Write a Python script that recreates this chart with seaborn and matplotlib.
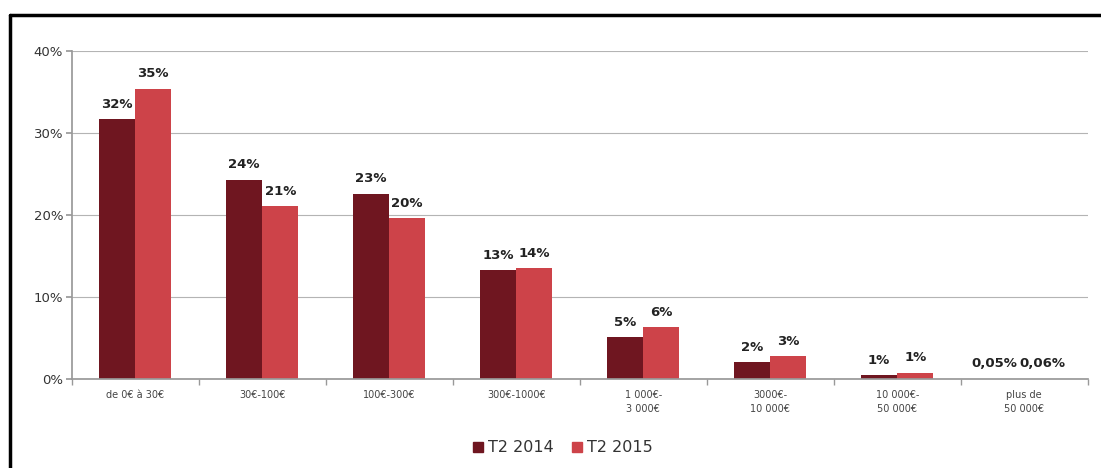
import matplotlib
matplotlib.use("Agg")
import matplotlib.pyplot as plt
import seaborn as sns
import pandas as pd
import numpy as np
from matplotlib.lines import Line2D

# data
categories = ["de 0€ à 30€", "30€-100€", "100€-300€", "300€-1000€",
              "1 000€-\n3 000€", "3000€-\n10 000€", "10 000€-\n50 000€", "plus de\n50 000€"]
series = ["T2 2014", "T2 2015"]
values_2014 = [31.7, 24.3, 22.6, 13.3, 5.1, 2.1, 0.5, 0.05]
values_2015 = [35.4, 21.1, 19.6, 13.5, 6.3, 2.8, 0.8, 0.06]
labels_2014 = ["32%", "24%", "23%", "13%", "5%", "2%", "1%", "0,05%"]
labels_2015 = ["35%", "21%", "20%", "14%", "6%", "3%", "1%", "0,06%"]
colors = ["#6f1620", "#cd4349"]

df = pd.DataFrame({
    "cat": categories * 2,
    "serie": [series[0]] * len(categories) + [series[1]] * len(categories),
    "val": values_2014 + values_2015,
})

sns.set_theme(style="white")
plt.rcParams["font.family"] = ["DejaVu Sans"]

fig = plt.figure(figsize=(11.01, 4.68), dpi=100)
ax = fig.add_axes([0.065, 0.19, 0.923, 0.701])

sns.barplot(data=df, x="cat", y="val", hue="serie", order=categories,
            hue_order=series, palette=colors, width=0.57, saturation=1,
            linewidth=0, ax=ax, legend=False)

ax.set_ylim(0, 40)
ax.set_xlim(-0.5, len(categories) - 0.5)
ax.set_yticks([0, 10, 20, 30, 40])
ax.set_yticklabels(["0%", "10%", "20%", "30%", "40%"], fontsize=9.5, color="#333333")
ax.set_xticks(range(len(categories)))
ax.set_xticklabels(categories, fontsize=7, color="#444444", linespacing=1.5)
ax.tick_params(axis="x", length=0, pad=8)
ax.tick_params(axis="y", length=4, color="#999999", pad=2, left=True)
ax.set_xticks(np.arange(-0.5, len(categories), 1), minor=True)
ax.tick_params(axis="x", which="minor", length=4, color="#999999", bottom=True)
ax.set_xlabel("")
ax.set_ylabel("")
ax.grid(axis="y", color="#b4b4b4", linewidth=0.8)
ax.set_axisbelow(True)
for s in ["top", "right"]:
    ax.spines[s].set_visible(False)
ax.spines["left"].set_color("#999999")
ax.spines["bottom"].set_color("#999999")

# value labels
texts = []
for cont, labs in zip(ax.containers, [labels_2014, labels_2015]):
    texts.append(ax.bar_label(cont, labels=labs, padding=6, fontsize=9.5,
                              fontweight="bold", color="#222222"))
# the two tiny values sit side by side: push the first one to the left
last = texts[0][-1]
last.set_horizontalalignment("right")
last.xyann = (8, 6)

# legend
handles = [Line2D([0], [0], marker="s", linestyle="", markersize=7,
                  markerfacecolor=c, markeredgecolor=c) for c in colors]
fig.legend(handles, series, loc="center", bbox_to_anchor=(0.51, 0.043),
           ncol=2, frameon=False, fontsize=11.5, handletextpad=0.1,
           columnspacing=1.0, handlelength=1.0, labelcolor="#333333")

# black frame on the left and top
fig.add_artist(Line2D([0.0095, 0.0095], [0.0, 0.968], color="black", linewidth=2.5))
fig.add_artist(Line2D([0.0095, 1.0], [0.968, 0.968], color="black", linewidth=2.5))

fig.savefig("out.png", dpi=100)
